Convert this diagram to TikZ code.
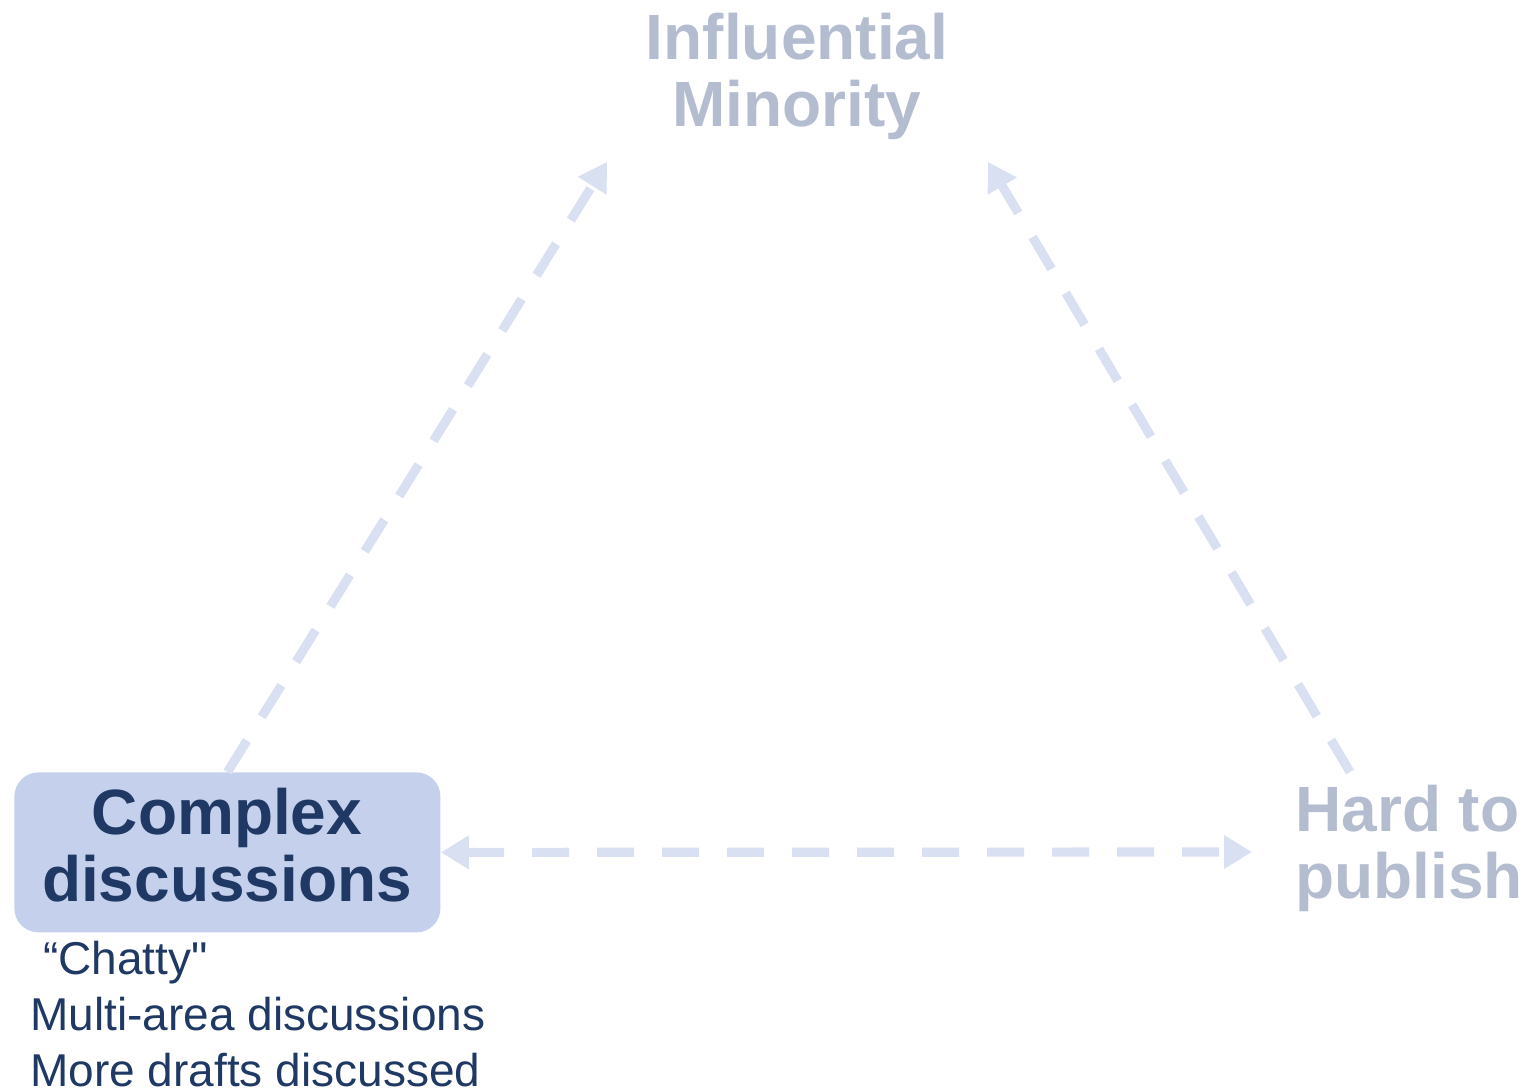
\documentclass[tikz,border=0pt]{standalone}
\usepackage{fontspec}
\setmainfont{Liberation Sans}
\newfontfamily\notesfont{Liberation Sans}[Ligatures=ResetAll]
\usetikzlibrary{arrows.meta}
\definecolor{navy}{HTML}{1F3864}
\definecolor{boxfill}{HTML}{C5D1EC}
\definecolor{faded}{HTML}{B4BCD0}
\definecolor{arrowc}{HTML}{D9E0F2}
\tikzset{
  big/.style={font=\fontsize{32}{33.5}\selectfont\bfseries, align=center, inner sep=0pt},
  small/.style={font=\notesfont\fontsize{23}{28}\selectfont, align=left, inner sep=0pt, text=navy},
  conn/.style={draw=arrowc, line width=4.6pt, dash pattern=on 18.5pt off 14pt,
    -{Triangle[length=14pt,width=16pt]}},
  conn2/.style={draw=arrowc, line width=4.6pt, dash pattern=on 18.5pt off 14pt,
    {Triangle[length=14pt,width=16pt]}-{Triangle[length=14pt,width=16pt]}}
}
\begin{document}
\begin{tikzpicture}[x=0.5pt,y=-0.5pt]
\useasboundingbox (0,0) rectangle (1529,1091);
% box
\node[draw=none, fill=boxfill, rounded corners=12pt, minimum width=213pt, minimum height=80pt, inner sep=0pt, anchor=north west] (box) at (14,772) {};
\node[big, text=navy, anchor=center] (cd) at (227,845) {Complex\\discussions};
\node[big, text=faded, anchor=center] (im) at (797,76) {Influential\\Minority};
\node[big, text=faded, align=left, anchor=west] (hp) at (1295,848) {Hard to\\publish};
\node[small, anchor=north west] (notes) at (30,941) {\ “Chatty"\\Multi-area discussions\\More drafts discussed};
% connector endpoints
\coordinate (aS) at (box.north);
\coordinate (aE) at (607,162);
\coordinate (bS) at (1350,772);
\coordinate (bE) at (988,162);
\coordinate (cS) at (box.east);
\coordinate (cE) at (1252,852);
\draw[conn] (aS) -- (aE);
\draw[conn] (bS) -- (bE);
\draw[conn2] (cS) -- (cE);
\end{tikzpicture}
\end{document}
